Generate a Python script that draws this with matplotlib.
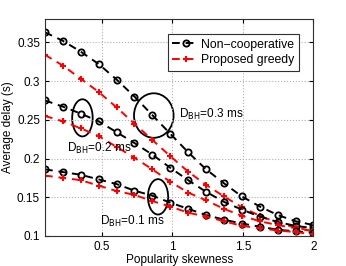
import numpy as np
import matplotlib.pyplot as plt
from matplotlib.patches import Ellipse

plt.rcParams['font.family'] = ['Liberation Sans', 'DejaVu Sans']

# popularity skewness values (16 points)
skew = [0.1, 0.2267, 0.3533, 0.48, 0.6067, 0.7333, 0.86, 0.9867,
        1.1133, 1.24, 1.3667, 1.4933, 1.62, 1.7467, 1.8733, 2.0]

# Non-cooperative
nc_03 = [0.363, 0.352, 0.338, 0.322, 0.302, 0.280, 0.256, 0.232,
         0.208, 0.186, 0.168, 0.151, 0.138, 0.127, 0.119, 0.114]
nc_02 = [0.275, 0.267, 0.258, 0.248, 0.234, 0.220, 0.205, 0.188,
         0.172, 0.157, 0.144, 0.134, 0.125, 0.118, 0.113, 0.110]
nc_01 = [0.186, 0.1825, 0.179, 0.173, 0.167, 0.1585, 0.152, 0.143,
         0.135, 0.127, 0.121, 0.116, 0.112, 0.108, 0.106, 0.104]

# Proposed greedy
pg_03 = [0.334, 0.320, 0.303, 0.286, 0.266, 0.245, 0.224, 0.203,
         0.183, 0.166, 0.151, 0.137, 0.126, 0.117, 0.111, 0.106]
pg_02 = [0.255, 0.248, 0.239, 0.229, 0.215, 0.201, 0.186, 0.170,
         0.156, 0.146, 0.135, 0.126, 0.119, 0.114, 0.110, 0.106]
pg_01 = [0.178, 0.175, 0.172, 0.165, 0.158, 0.153, 0.145, 0.138,
         0.130, 0.125, 0.119, 0.113, 0.110, 0.107, 0.105, 0.102]

fig = plt.figure(figsize=(3.46, 2.66), dpi=100)
ax = fig.add_axes([0.130, 0.113, 0.776, 0.815])

nc_style = dict(color='black', linestyle='--', linewidth=1.4, marker='o',
                markersize=4.5, markerfacecolor='none', markeredgewidth=1.3,
                dashes=(4, 3))
pg_style = dict(color='red', linestyle='--', linewidth=1.4, marker='+',
                markersize=5, markeredgewidth=1.5, dashes=(4, 3))

ax.plot(skew, nc_03, label='Non\u2212cooperative', **nc_style)
ax.plot(skew, pg_03, label='Proposed greedy', **pg_style)
ax.plot(skew, nc_02, **nc_style)
ax.plot(skew, pg_02, **pg_style)
ax.plot(skew, nc_01, **nc_style)
ax.plot(skew, pg_01, **pg_style)

# ellipses marking the backhaul delay groups
ax.add_patch(Ellipse((0.87, 0.2555), 0.28, 0.0575, fill=False, color='black', lw=1.3))
ax.add_patch(Ellipse((0.365, 0.2525), 0.145, 0.048, fill=False, color='black', lw=1.3))
ax.add_patch(Ellipse((0.90, 0.1505), 0.143, 0.0457, fill=False, color='black', lw=1.3))

ax.text(1.05, 0.2575, 'D$_{\\rm BH}$=0.3 ms', fontsize=8.5, va='center')
ax.text(0.255, 0.2125, 'D$_{\\rm BH}$=0.2 ms', fontsize=8.5, va='center')
ax.text(0.49, 0.1185, 'D$_{\\rm BH}$=0.1 ms', fontsize=8.5, va='center')

ax.set_xlim(0.1, 2)
ax.set_ylim(0.1, 0.38)
ax.set_xticks([0.5, 1, 1.5, 2])
ax.set_xticklabels(['0.5', '1', '1.5', '2'])
ax.set_yticks([0.1, 0.15, 0.2, 0.25, 0.3, 0.35])
ax.set_yticklabels(['0.1', '0.15', '0.2', '0.25', '0.3', '0.35'])
ax.tick_params(labelsize=8.5, direction='in', length=3, top=True, right=True)
ax.grid(True, linestyle=':', color='#b0b0b0', linewidth=0.8)
for s in ax.spines.values():
    s.set_color('#303030')

ax.set_xlabel('Popularity skewness', fontsize=8.5, labelpad=1)
ax.set_ylabel('Average delay (s)', fontsize=8.5, labelpad=2)

leg = ax.legend(loc='upper right', bbox_to_anchor=(0.946, 0.93), fontsize=8.8,
                fancybox=False, edgecolor='#303030', framealpha=1,
                handlelength=2.2, handletextpad=0.2, borderpad=0.35,
                labelspacing=0.3, borderaxespad=0)
leg.get_frame().set_linewidth(0.8)

fig.savefig('out.png', dpi=100)
